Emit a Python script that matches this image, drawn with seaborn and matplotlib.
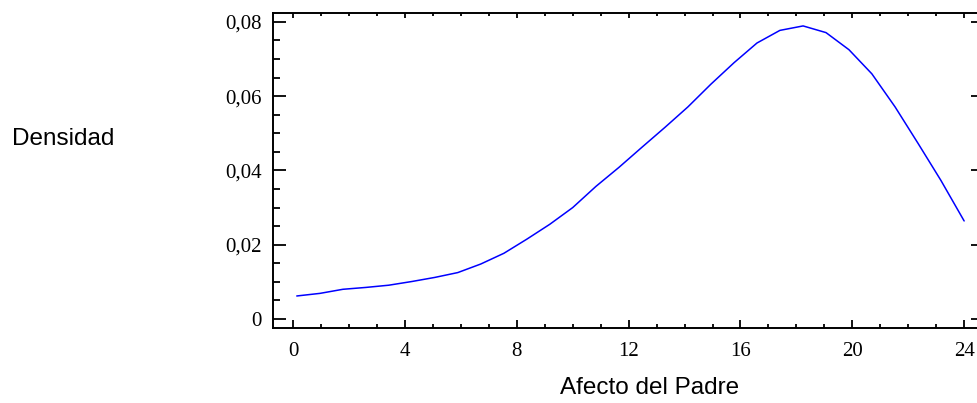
import numpy as np
import pandas as pd
import seaborn as sns
from matplotlib import pyplot as plt
from matplotlib.ticker import MultipleLocator, FuncFormatter

# Density curve (Afecto del Padre vs Densidad)
afecto = [0.13, 0.96, 1.78, 2.60, 3.42, 4.25, 5.07, 5.89, 6.71, 7.54,
          8.36, 9.18, 10.00, 10.83, 11.65, 12.47, 13.30, 14.12, 14.94, 15.77,
          16.59, 17.41, 18.24, 19.06, 19.88, 20.70, 21.53, 22.35, 23.17, 24.00]
densidad = [0.0062, 0.0069, 0.0080, 0.0085, 0.0091, 0.0101, 0.0112, 0.0125, 0.0148, 0.0177,
            0.0215, 0.0255, 0.0300, 0.0357, 0.0408, 0.0462, 0.0516, 0.0571, 0.0632, 0.0690,
            0.0743, 0.0777, 0.0789, 0.0771, 0.0725, 0.0660, 0.0571, 0.0473, 0.0373, 0.0264]
x_ticks = [0, 4, 8, 12, 16, 20, 24]
y_ticks = [0, 0.02, 0.04, 0.06, 0.08]

sns.set_style('white')
plt.rcParams['font.family'] = ['Liberation Sans', 'DejaVu Sans']
plt.rcParams.update({
    'text.color': 'black',
    'axes.labelcolor': 'black',
    'xtick.color': 'black',
    'ytick.color': 'black',
})

df = pd.DataFrame({'afecto': afecto, 'densidad': densidad})

fig = plt.figure(figsize=(9.77, 4.03), dpi=100)
ax = fig.add_axes([273 / 977, 75.3 / 403, 704 / 977, 314.4 / 403])

sns.lineplot(data=df, x='afecto', y='densidad', ax=ax, color='#0000ff',
             lw=1.1, estimator=None, sort=False)

ax.set_xlim(-0.72, 24.46)
ax.set_ylim(-0.00234, 0.0823)

# Tick positions and comma decimal labels
ax.set_xticks(x_ticks)
ax.set_yticks(y_ticks)
ax.xaxis.set_minor_locator(MultipleLocator(1))
ax.yaxis.set_minor_locator(MultipleLocator(0.005))
ax.yaxis.set_major_formatter(
    FuncFormatter(lambda v, _: '0' if abs(v) < 1e-9 else f'{v:.2f}'.replace('.', ',')))

for lab in ax.get_xticklabels() + ax.get_yticklabels():
    lab.set_fontfamily('Liberation Serif')
    lab.set_fontsize(15)
    lab.set_color('black')

ax.tick_params(axis='y', which='major', direction='in', length=9.4, width=1.3,
               pad=8, left=True, right=False, colors='black')
ax.tick_params(axis='y', which='minor', direction='in', length=5, width=1.3,
               left=True, right=False, colors='black')
ax.tick_params(axis='x', which='major', direction='in', length=5.5, width=1.3,
               pad=10.5, bottom=True, top=False, colors='black')
ax.tick_params(axis='x', which='minor', direction='in', length=3, width=1.3,
               bottom=True, top=False, colors='black')

for side in ['left', 'bottom', 'top']:
    ax.spines[side].set_linewidth(1.4)
    ax.spines[side].set_color('black')
ax.spines['right'].set_visible(False)

# Top and right tick marks without labels
top = ax.secondary_xaxis('top')
top.set_xticks(x_ticks)
top.xaxis.set_minor_locator(MultipleLocator(1))
top.tick_params(which='major', direction='in', length=3.6, width=1.3,
                labeltop=False, colors='black')
top.tick_params(which='minor', direction='in', length=1.8, width=1.3, colors='black')
top.spines['top'].set_visible(False)

right = ax.secondary_yaxis('right')
right.set_yticks(y_ticks)
right.tick_params(which='major', direction='in', length=4.3, width=1.3,
                  labelright=False, colors='black')
right.spines['right'].set_visible(False)

# Axis titles
ax.set_xlabel('Afecto del Padre', fontsize=17.5, color='black')
ax.xaxis.set_label_coords(0.5355, -0.192)
ax.xaxis.label.set_va('center')
ax.set_ylabel('Densidad', fontsize=17.5, rotation=0, ha='left', va='center', color='black')
ax.yaxis.set_label_coords(-0.371, 0.60)

fig.savefig('out.png', dpi=100)
plt.close(fig)
